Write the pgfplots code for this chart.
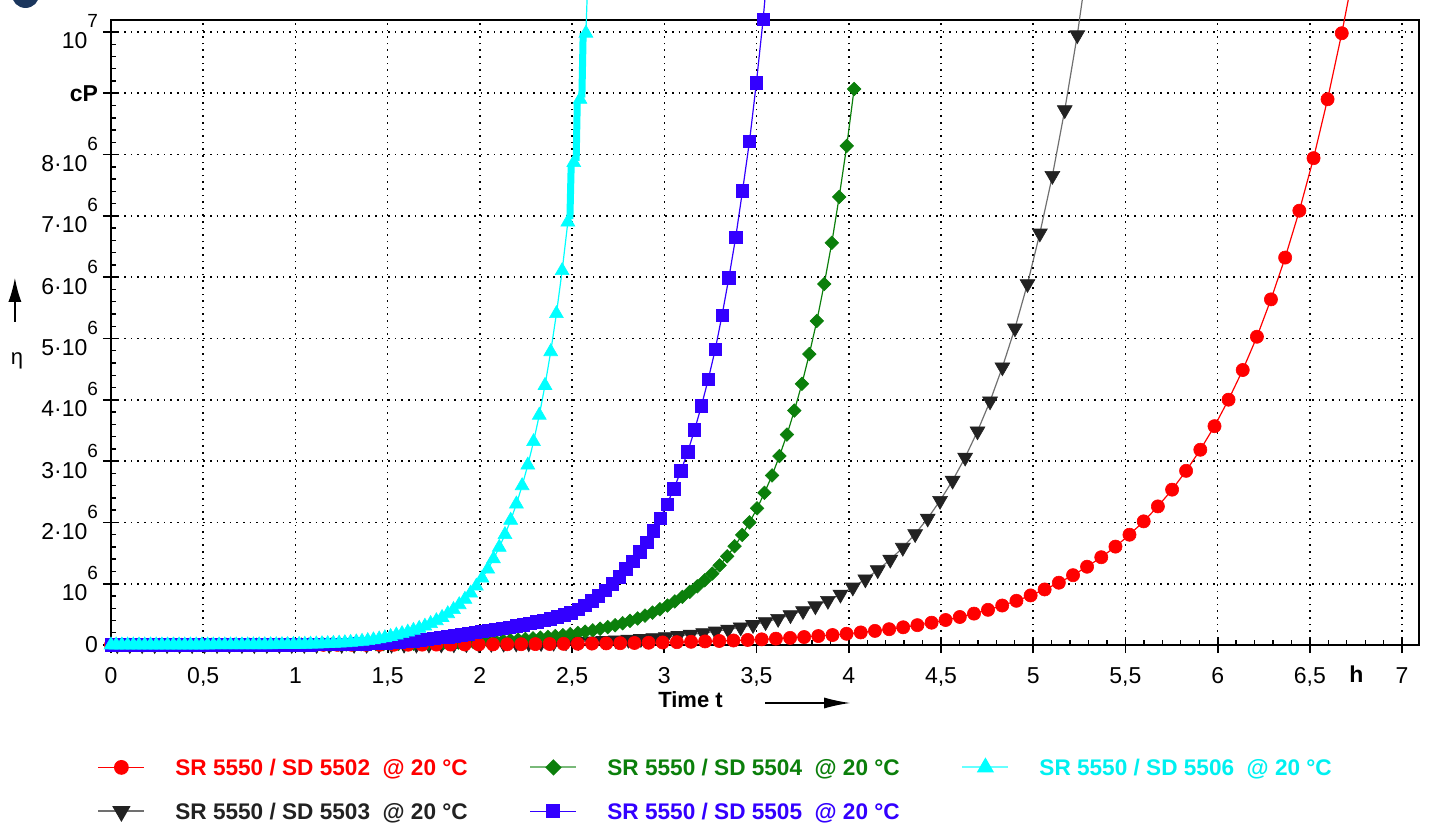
\documentclass[border=0pt]{standalone}
\usepackage{fontspec}
\setmainfont{Liberation Sans}
\usepackage{pgfplots}
\usepackage{pgfplotstable}
\pgfplotsset{compat=1.18}
\usetikzlibrary{arrows.meta}

\definecolor{cred}{HTML}{FF0000}
\definecolor{cgreen}{HTML}{0B7F0B}
\definecolor{cblue}{HTML}{3300FF}
\definecolor{ccyan}{HTML}{00FFFF}
\definecolor{ccyantext}{HTML}{00F0F0}
\definecolor{cblack}{HTML}{222222}
\definecolor{cgray}{HTML}{707070}
\definecolor{navy}{HTML}{1B365D}

\newcommand\pw[1]{\raisebox{10.5pt}{\fontsize{9.5}{9.5}\selectfont #1}}
\newcommand\lt[2]{\hspace*{15pt}\makebox[177pt][l]{\color{#1}\bfseries\fontsize{11.3}{13}\selectfont #2}}

\pgfplotstableread{
x y
0.000 0.0005
0.077 0.0005
0.153 0.0006
0.230 0.0007
0.307 0.0008
0.384 0.0009
0.460 0.0010
0.537 0.0011
0.614 0.0012
0.690 0.0013
0.767 0.0015
0.844 0.0017
0.920 0.0019
0.997 0.0021
1.074 0.0024
1.151 0.0027
1.227 0.0030
1.304 0.0034
1.381 0.0038
1.457 0.0042
1.534 0.0047
1.611 0.0053
1.687 0.0060
1.764 0.0067
1.841 0.0075
1.918 0.0084
1.994 0.0094
2.071 0.0105
2.148 0.0118
2.224 0.0132
2.301 0.0148
2.378 0.0166
2.454 0.0187
2.531 0.0209
2.608 0.0234
2.685 0.0263
2.761 0.0295
2.838 0.0330
2.915 0.0370
2.991 0.0415
3.068 0.0465
3.145 0.0522
3.221 0.0585
3.298 0.0655
3.375 0.0735
3.452 0.0824
3.528 0.0923
3.605 0.1035
3.682 0.116
3.758 0.130
3.835 0.146
3.912 0.163
3.988 0.183
4.065 0.205
4.142 0.230
4.219 0.258
4.295 0.289
4.372 0.324
4.449 0.364
4.525 0.408
4.602 0.457
4.679 0.512
4.755 0.574
4.832 0.644
4.909 0.721
4.986 0.809
5.062 0.906
5.139 1.016
5.216 1.139
5.292 1.277
5.369 1.432
5.446 1.605
5.522 1.799
5.599 2.017
5.676 2.261
5.753 2.534
5.829 2.841
5.906 3.185
5.983 3.570
6.059 4.002
6.136 4.486
6.213 5.029
6.289 5.638
6.366 6.320
6.443 7.085
6.520 7.942
6.596 8.903
6.673 9.980
}\tRed

\pgfplotstableread{
x y
0.034 0.0004
0.102 0.0005
0.169 0.0005
0.237 0.0006
0.304 0.0007
0.372 0.0008
0.440 0.0009
0.507 0.0010
0.575 0.0012
0.642 0.0013
0.710 0.0015
0.777 0.0017
0.845 0.0020
0.913 0.0023
0.980 0.0026
1.048 0.0029
1.115 0.0033
1.183 0.0038
1.251 0.0043
1.318 0.0049
1.386 0.0056
1.453 0.0064
1.521 0.0073
1.589 0.0084
1.656 0.0095
1.724 0.0109
1.791 0.0124
1.859 0.014
1.927 0.016
1.994 0.018
2.062 0.021
2.129 0.024
2.197 0.027
2.265 0.031
2.332 0.035
2.400 0.040
2.467 0.046
2.535 0.053
2.603 0.060
2.670 0.068
2.738 0.078
2.805 0.089
2.873 0.101
2.941 0.116
3.008 0.132
3.076 0.150
3.143 0.171
3.211 0.195
3.279 0.223
3.346 0.254
3.414 0.289
3.481 0.330
3.549 0.376
3.617 0.429
3.684 0.489
3.752 0.557
3.819 0.635
3.887 0.724
3.955 0.825
4.022 0.941
4.090 1.073
4.157 1.223
4.225 1.394
4.293 1.589
4.360 1.812
4.428 2.066
4.495 2.355
4.563 2.684
4.631 3.060
4.698 3.488
4.766 3.977
4.833 4.533
4.901 5.168
4.969 5.891
5.036 6.716
5.104 7.656
5.171 8.728
5.239 9.950
}\tBlack

\pgfplotstableread{
x y
0.019 0.0004
0.060 0.0005
0.100 0.0005
0.141 0.0006
0.181 0.0006
0.222 0.0007
0.262 0.0008
0.303 0.0008
0.343 0.0009
0.384 0.0010
0.424 0.0011
0.465 0.0013
0.505 0.0014
0.546 0.0015
0.587 0.0017
0.627 0.0019
0.668 0.0021
0.708 0.0023
0.749 0.0025
0.789 0.0028
0.830 0.0031
0.870 0.0034
0.911 0.0037
0.951 0.0041
0.992 0.0045
1.032 0.0050
1.073 0.0055
1.113 0.0061
1.154 0.0067
1.194 0.0074
1.235 0.0082
1.275 0.0091
1.316 0.0100
1.356 0.0111
1.397 0.0122
1.437 0.0135
1.478 0.0149
1.518 0.0164
1.559 0.018
1.599 0.020
1.640 0.022
1.680 0.024
1.721 0.027
1.761 0.030
1.802 0.033
1.842 0.036
1.883 0.040
1.923 0.044
1.964 0.049
2.004 0.054
2.045 0.060
2.085 0.066
2.126 0.073
2.166 0.081
2.207 0.089
2.247 0.098
2.288 0.108
2.328 0.120
2.369 0.132
2.409 0.146
2.450 0.161
2.490 0.178
2.531 0.196
2.571 0.217
2.612 0.239
2.652 0.264
2.693 0.292
2.733 0.322
2.774 0.356
2.814 0.393
2.855 0.433
2.895 0.479
2.936 0.528
2.976 0.583
3.017 0.644
3.057 0.711
3.098 0.785
3.138 0.867
3.179 0.957
3.219 1.056
3.260 1.166
3.300 1.299
3.341 1.447
3.381 1.612
3.422 1.796
3.462 2.001
3.503 2.229
3.543 2.483
3.584 2.766
3.624 3.082
3.665 3.433
3.705 3.824
3.746 4.260
3.786 4.746
3.827 5.287
3.867 5.889
3.908 6.561
3.948 7.309
3.989 8.142
4.029 9.070
}\tGreen

\pgfplotstableread{
x y
0.002 0.0001
0.039 0.0001
0.076 0.0002
0.114 0.0002
0.151 0.0002
0.188 0.0002
0.225 0.0003
0.262 0.0003
0.300 0.0003
0.337 0.0004
0.374 0.0004
0.411 0.0005
0.448 0.0005
0.486 0.0006
0.523 0.0007
0.560 0.0008
0.597 0.0009
0.634 0.0010
0.672 0.0011
0.709 0.0013
0.746 0.0015
0.783 0.0017
0.820 0.0020
0.858 0.0023
0.895 0.0026
0.932 0.0030
0.969 0.0035
1.006 0.0041
1.044 0.0049
1.081 0.0057
1.118 0.0067
1.155 0.0079
1.192 0.0093
1.230 0.0110
1.267 0.0129
1.304 0.0151
1.341 0.0177
1.378 0.0208
1.416 0.0244
1.453 0.0286
1.490 0.0335
1.527 0.040
1.564 0.047
1.602 0.056
1.639 0.066
1.676 0.078
1.713 0.093
1.750 0.110
1.788 0.122
1.825 0.135
1.862 0.150
1.899 0.166
1.936 0.184
1.974 0.205
2.011 0.224
2.048 0.239
2.085 0.255
2.122 0.272
2.160 0.291
2.197 0.310
2.234 0.331
2.271 0.353
2.308 0.377
2.346 0.403
2.383 0.430
2.420 0.460
2.457 0.491
2.494 0.524
2.532 0.581
2.569 0.646
2.606 0.719
2.643 0.800
2.681 0.890
2.718 1.000
2.755 1.110
2.792 1.240
2.829 1.370
2.866 1.520
2.904 1.680
2.941 1.860
2.978 2.070
3.015 2.300
3.052 2.550
3.090 2.840
3.127 3.150
3.164 3.510
3.201 3.900
3.238 4.330
3.276 4.820
3.313 5.380
3.350 5.990
3.387 6.650
3.424 7.410
3.462 8.220
3.499 9.170
3.536 10.210
}\tBlue

\pgfplotstableread{
x y
0.000 0.0001
0.028 0.0001
0.059 0.0001
0.090 0.0001
0.121 0.0002
0.152 0.0002
0.183 0.0002
0.214 0.0002
0.245 0.0003
0.276 0.0003
0.307 0.0003
0.338 0.0004
0.369 0.0004
0.400 0.0005
0.431 0.0005
0.462 0.0006
0.493 0.0007
0.524 0.0008
0.555 0.0009
0.586 0.0010
0.617 0.0012
0.648 0.0014
0.679 0.0016
0.710 0.0019
0.741 0.0022
0.772 0.0026
0.803 0.0031
0.834 0.0036
0.865 0.0043
0.896 0.0050
0.927 0.0060
0.958 0.0070
0.989 0.0083
1.020 0.0098
1.051 0.0115
1.082 0.0136
1.113 0.016
1.144 0.019
1.175 0.022
1.206 0.026
1.237 0.031
1.268 0.037
1.299 0.043
1.330 0.051
1.361 0.060
1.392 0.071
1.423 0.084
1.454 0.099
1.485 0.117
1.516 0.138
1.547 0.163
1.578 0.185
1.609 0.210
1.640 0.238
1.671 0.271
1.702 0.307
1.733 0.349
1.764 0.396
1.795 0.449
1.826 0.510
1.857 0.578
1.888 0.657
1.919 0.745
1.950 0.846
1.981 0.960
2.012 1.090
2.043 1.237
2.074 1.404
2.105 1.594
2.136 1.801
2.167 2.035
2.198 2.300
2.229 2.598
2.260 2.936
2.291 3.317
2.322 3.748
2.353 4.234
2.384 4.784
2.415 5.405
2.446 6.107
2.477 6.900
2.509 7.870
2.543 8.900
2.575 9.980
}\tCyan

\begin{document}
\begin{tikzpicture}
\begin{axis}[
  scale only axis, width=654pt, height=312.5pt,
  xmin=0, xmax=7.092, ymin=0, ymax=10.196,
  clip=false,
  axis line style={line width=1.1pt, black},
  tick pos=left,
  tick align=center,
  major tick length=8pt,
  minor tick length=2.5pt,
  major tick style={line width=0.9pt, black},
  minor tick style={line width=0.7pt, black},
  minor x tick style={yshift=1.25pt},
  minor y tick style={xshift=1.25pt},
  xtick={0,0.5,1,1.5,2,2.5,3,3.5,4,4.5,5,5.5,6,6.5,7},
  xticklabels={0,{0,5},1,{1,5},2,{2,5},3,{3,5},4,{4,5},5,{5,5},6,{6,5},7},
  ytick={0,1,2,3,4,5,6,7,8,9,10},
  yticklabels={0,10\pw{6},2·10\pw{6},3·10\pw{6},4·10\pw{6},5·10\pw{6},6·10\pw{6},7·10\pw{6},8·10\pw{6},{\bfseries cP},10\pw{7}},
  minor x tick num=4, minor y tick num=4,
  grid=major,
  major grid style={black, line width=0.8pt, dash pattern=on 0.8pt off 2.5pt},
  tick label style={font=\fontsize{11.5}{13}\selectfont},
  xticklabel style={yshift=-3.75pt},
  yticklabel style={xshift=1pt},
  legend image code/.code={\draw[mark repeat=2,mark phase=2,#1] plot coordinates {(0pt,0pt) (11.5pt,0pt) (23pt,0pt)};},
  legend cell align=left,
  legend columns=3,
  legend style={at={(axis cs:-0.0759,-1.729)}, anchor=north west, draw=none, fill=none,
    inner xsep=0pt, inner ysep=0pt, row sep=6pt, column sep=0pt,
    nodes={inner sep=0pt, text height=12.2pt, text depth=3.8pt}},
]
% black SD 5503
\addplot[cgray, line width=0.6pt, mark=triangle*, mark size=4.3pt, mark options={solid, rotate=180, fill=cblack, draw=cblack, line width=0.3pt}, forget plot] table {\tBlack};
\addplot[cgray, line width=0.6pt, forget plot] coordinates {(5.239,9.950) (5.266,10.522)};
% green SD 5504
\addplot[cgreen, line width=0.6pt, mark=square*, mark size=2.4pt, mark options={solid, rotate=45, fill=cgreen, draw=cgreen, line width=0.3pt}, forget plot] table {\tGreen};
% red SD 5502
\addplot[cred, line width=0.6pt, mark=*, mark size=3.3pt, mark options={solid, fill=cred, draw=cred, line width=0.3pt}, forget plot] table {\tRed};
\addplot[cred, line width=0.6pt, forget plot] coordinates {(6.673,9.980) (6.708,10.522)};
% blue SD 5505
\addplot[cblue, line width=0.6pt, mark=square*, mark size=3.1pt, mark options={solid, fill=cblue, draw=cblue, line width=0.3pt}, forget plot] table {\tBlue};
\addplot[cblue, line width=0.6pt, forget plot] coordinates {(3.536,10.210) (3.545,10.522)};
% cyan SD 5506
\addplot[ccyan, line width=0.6pt, mark=triangle*, mark size=4pt, mark options={solid, fill=ccyan, draw=ccyan, line width=0.3pt}, forget plot] table {\tCyan};
\addplot[ccyan, line width=3.5pt, forget plot] coordinates {(2.488,6.95) (2.495,7.82)};
\addplot[ccyan, line width=3.5pt, forget plot] coordinates {(2.522,7.90) (2.528,8.86)};
\addplot[ccyan, line width=3.5pt, forget plot] coordinates {(2.553,8.93) (2.560,9.98)};
\addplot[ccyan, line width=0.6pt, forget plot] coordinates {(2.575,9.980) (2.581,10.522)};

% legend (row-wise: 5502, 5504, 5506 / 5503, 5505)
\addlegendimage{cred, line width=0.8pt, mark=*, mark size=3.3pt, mark options={solid, fill=cred, draw=cred}}
\addlegendentry{\lt{cred}{SR 5550 / SD 5502\ \ @ 20 °C}}
\addlegendimage{cgreen!55, line width=1pt, mark=square*, mark size=2.4pt, mark options={solid, rotate=45, fill=cgreen, draw=cgreen}}
\addlegendentry{\lt{cgreen}{SR 5550 / SD 5504\ \ @ 20 °C}}
\addlegendimage{ccyan!60, line width=1pt, mark=triangle*, mark size=4pt, mark options={solid, fill=ccyan, draw=ccyan}}
\addlegendentry{\lt{ccyantext}{SR 5550 / SD 5506\ \ @ 20 °C}}
\addlegendimage{cgray, line width=1pt, mark=triangle*, mark size=4.3pt, mark options={solid, rotate=180, fill=cblack, draw=cblack}}
\addlegendentry{\lt{cblack}{SR 5550 / SD 5503\ \ @ 20 °C}}
\addlegendimage{cblue, line width=0.8pt, mark=square*, mark size=3.1pt, mark options={solid, fill=cblue, draw=cblue}}
\addlegendentry{\lt{cblue}{SR 5550 / SD 5505\ \ @ 20 °C}}

% axis titles
\node[anchor=base, font=\bfseries\fontsize{11.5}{13}\selectfont] at (axis cs:6.752,-0.612) {h};
\node[font=\bfseries\fontsize{11}{13}\selectfont] at (axis cs:3.142,-0.897) {Time t};
\draw[line width=0.75pt, -{Latex[length=13pt,width=5.5pt]}] (axis cs:3.547,-0.946) -- (axis cs:4.008,-0.946);
\node[font=\fontsize{11}{13}\selectfont] at (axis cs:-0.51,4.63) {η};
\draw[line width=0.8pt, -{Latex[length=12pt,width=6.5pt]}] (axis cs:-0.521,5.27) -- (axis cs:-0.521,5.99);

% logo fragment
\fill[navy] (axis cs:-0.4636,10.616) circle[radius=6.875pt];

\coordinate (bbsw) at (axis cs:-0.6018,-2.969);
\coordinate (bbne) at (axis cs:7.1514,10.522);
\end{axis}
\pgfresetboundingbox
\useasboundingbox (bbsw) rectangle (bbne);
\end{tikzpicture}
\end{document}
